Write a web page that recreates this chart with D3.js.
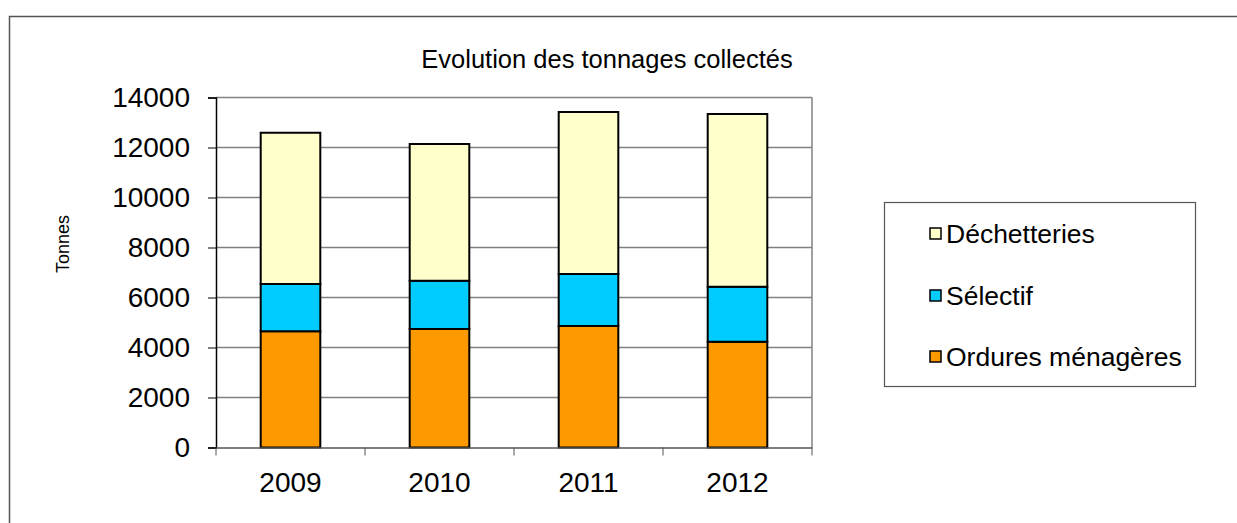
<!DOCTYPE html>
<html><head><meta charset="utf-8">
<script src="https://cdn.jsdelivr.net/npm/d3@7"></script>
<style>body{margin:0;background:#fff;}svg{display:block;font-family:"Liberation Sans",Arial,sans-serif;}</style>
</head><body><svg id="c" width="1237" height="523"></svg>
<script>
const years = ["2009","2010","2011","2012"];
const ordures = [4650, 4740, 4860, 4230];
const selectif = [1890, 1930, 2080, 2200];
const dechetteries = [6050, 5470, 6480, 6910];
const seriesNames = ["Ordures ménagères","Sélectif","Déchetteries"];
const seriesColors = ["#FF9900","#00CCFF","#FFFFCC"];
const yTicks = [0,2000,4000,6000,8000,10000,12000,14000];
const title = "Evolution des tonnages collectés";
const yLabel = "Tonnes";

const svg = d3.select("#c");
// outer frame
svg.append("rect").attr("x",9.5).attr("y",16.5).attr("width",1240).attr("height",520)
  .attr("fill","none").attr("stroke","#555").attr("stroke-width",1.5);

const m = {l:216, r:812, t:97.5, b:447.5};
const x = d3.scaleBand().domain(years).range([m.l,m.r]).paddingInner(0.6).paddingOuter(0.3);
const xb = d3.scaleBand().domain(years).range([m.l,m.r]);
const y = d3.scaleLinear().domain([0,14000]).range([m.b,m.t]);

// gridlines
svg.append("g").selectAll("line").data(yTicks.filter(d=>d>0)).join("line")
  .attr("x1",m.l).attr("x2",m.r).attr("y1",d=>y(d)).attr("y2",d=>y(d))
  .attr("stroke","#808080").attr("stroke-width",1.5);
// right border of plot
svg.append("line").attr("x1",m.r).attr("x2",m.r).attr("y1",m.t).attr("y2",m.b)
  .attr("stroke","#808080").attr("stroke-width",1.5);

// stacked data
const table = years.map((yr,i)=>({year:yr, "Ordures ménagères":ordures[i], "Sélectif":selectif[i], "Déchetteries":dechetteries[i]}));
const stack = d3.stack().keys(seriesNames)(table);
const gS = svg.append("g");
stack.forEach((s,k)=>{
  gS.selectAll(null).data(s).join("rect")
    .attr("x",d=>x(d.data.year)).attr("width",x.bandwidth())
    .attr("y",d=>y(d[1])).attr("height",d=>y(d[0])-y(d[1]))
    .attr("fill",seriesColors[k]).attr("stroke","#000").attr("stroke-width",2);
});

// y axis
const ya = svg.append("g").attr("transform",`translate(${m.l},0)`)
  .call(d3.axisLeft(y).tickValues(yTicks).tickFormat(d3.format("d")).tickSize(8).tickPadding(18));
ya.select(".domain").attr("stroke","#000").attr("stroke-width",1.5);
ya.selectAll(".tick line").attr("stroke","#000").attr("stroke-width",1);
ya.selectAll("text").attr("font-size",28).attr("fill","#000").attr("font-family","Liberation Sans, Arial, sans-serif");

// x axis
const xa = svg.append("g").attr("transform",`translate(0,${m.b})`)
  .call(d3.axisBottom(xb).tickSize(0).tickPadding(25));
xa.select(".domain").attr("stroke","#555").attr("stroke-width",1.5);
xa.selectAll("text").attr("font-size",28).attr("fill","#000").attr("font-family","Liberation Sans, Arial, sans-serif");
svg.append("g").selectAll("line").data(years.concat(["end"])).join("line")
  .attr("x1",(d,i)=>m.l+i*xb.step()).attr("x2",(d,i)=>m.l+i*xb.step())
  .attr("y1",m.b).attr("y2",m.b+8).attr("stroke","#555").attr("stroke-width",1);

// title
svg.append("text").attr("x",607).attr("y",68).attr("text-anchor","middle")
  .attr("font-size",25.5).text(title);
// y label
svg.append("text").attr("transform","translate(69,244) rotate(-90)").attr("text-anchor","middle")
  .attr("font-size",18).text(yLabel);

// legend
const lg = svg.append("g");
lg.append("rect").attr("x",884.5).attr("y",202.5).attr("width",311).attr("height",184)
  .attr("fill","#fff").attr("stroke","#555").attr("stroke-width",1.2);
const legOrder = ["Déchetteries","Sélectif","Ordures ménagères"];
const legY = [234,296,357];
legOrder.forEach((n,i)=>{
  const k = seriesNames.indexOf(n);
  lg.append("rect").attr("x",930).attr("y",legY[i]-6).attr("width",11).attr("height",11)
    .attr("fill",seriesColors[k]).attr("stroke","#000").attr("stroke-width",1.5);
  lg.append("text").attr("x",946).attr("y",legY[i]+9).attr("font-size",26.5).text(n);
});
</script></body></html>
